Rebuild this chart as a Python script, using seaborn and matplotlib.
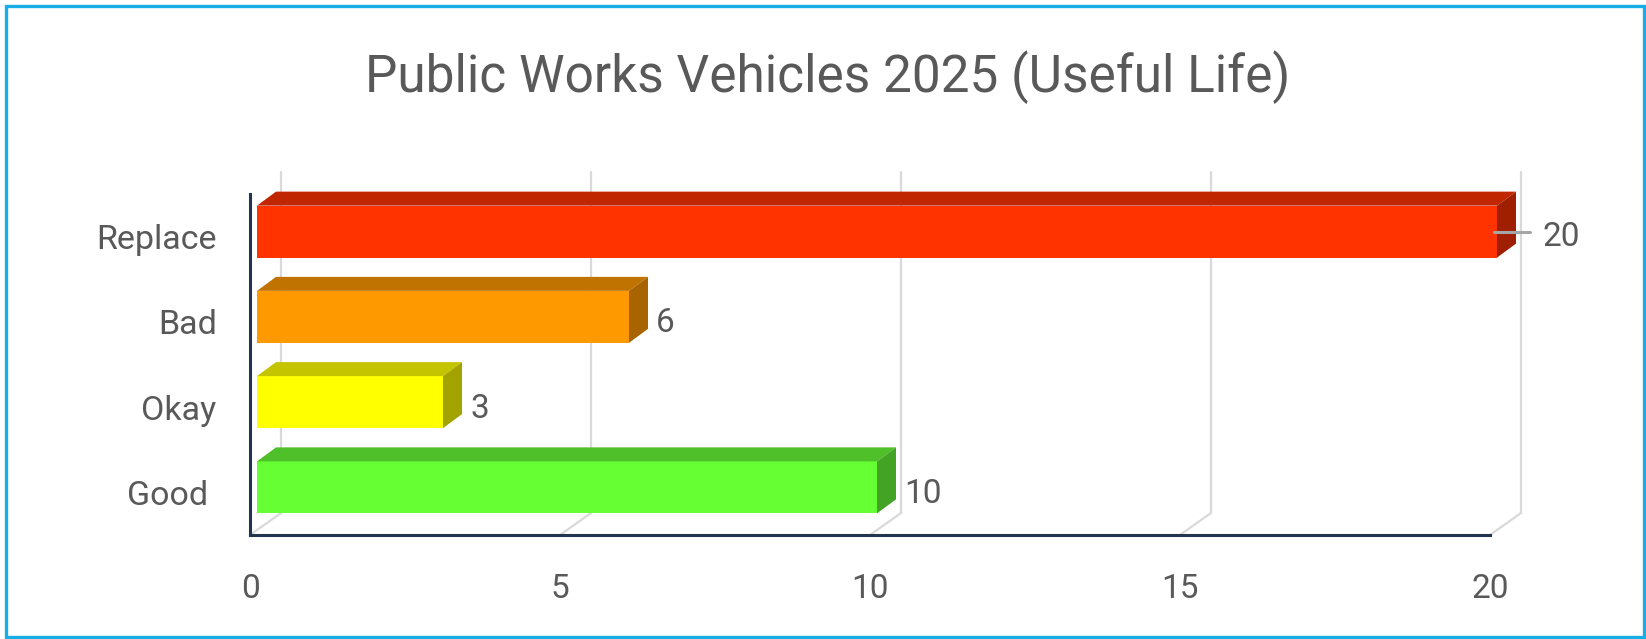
import matplotlib
matplotlib.use('Agg')
import matplotlib.pyplot as plt
import seaborn as sns
import pandas as pd
from matplotlib.patches import Polygon, Rectangle

# ---- data ----
categories = ['Replace', 'Bad', 'Okay', 'Good']
category_labels = ['Replace', 'Bad', 'Okay', 'Good ']
values = [20, 6, 3, 10]
x_ticks = [0, 5, 10, 15, 20]
x_tick_labels = ['0', '5', '10', '15', '20']
title = 'Public Works Vehicles 2025 (Useful Life)'

front_colors = ['#FF3300', '#FF9900', '#FFFF00', '#66FF33']
top_colors = ['#C02600', '#C07300', '#C4C400', '#4FBF2A']
side_colors = ['#A01F00', '#A86400', '#A3A300', '#43A324']

sns.set_theme(style='white')
plt.rcParams['font.family'] = ['Roboto', 'DejaVu Sans']

W, H = 1646, 639
fig = plt.figure(figsize=(W / 100, H / 100), dpi=100)
ax = fig.add_axes([250 / W, 104 / H, 1240 / W, 341 / H])

df = pd.DataFrame({'category': categories, 'value': values})
sns.barplot(data=df, x='value', y='category', hue='category', palette=front_colors,
            orient='h', width=0.61, legend=False, ax=ax, saturation=1, zorder=3)

ax.set_xlim(0, 20)
ax.set_ylim(3.5, -0.5)

# pixel -> data conversions (62 px per x unit, 85.25 px per category)
PX = 20 / 1240
PY = 4 / 341
FX, FY = 7 * PX, 5 * PY      # bar front-face depth shift
DX, DY = 19 * PX, 14 * PY    # bar depth
WX, WY = 31 * PX, 22 * PY    # back wall depth

grid_col = '#D9D9D9'
for v in x_ticks:
    ax.plot([v + WX, v + WX], [3.5 - WY, -0.5 - WY], color=grid_col, lw=1.6,
            clip_on=False, zorder=0.5)
    ax.plot([v, v + WX], [3.5, 3.5 - WY], color=grid_col, lw=1.6,
            clip_on=False, zorder=0.5)

label_kw = dict(fontsize=24, color='#595959')
for bar in list(ax.patches):
    w = bar.get_width()
    h = bar.get_height()
    idx = int(round(bar.get_y() + h / 2))
    bar.set_x(bar.get_x() + FX)
    bar.set_y(bar.get_y() - FY)
    bar.set_clip_on(False)
    bar.set_edgecolor('none')
    bar.set_facecolor(front_colors[idx])
    x0 = bar.get_x()
    x1 = x0 + w
    yt = bar.get_y()
    yb = yt + h
    top = Polygon([(x0, yt), (x1, yt), (x1 + DX, yt - DY), (x0 + DX, yt - DY)],
                  closed=True, facecolor=top_colors[idx], edgecolor='none',
                  clip_on=False, zorder=3)
    side = Polygon([(x1, yt), (x1, yb), (x1 + DX, yb - DY), (x1 + DX, yt - DY)],
                   closed=True, facecolor=side_colors[idx], edgecolor='none',
                   clip_on=False, zorder=3)
    ax.add_patch(top)
    ax.add_patch(side)
    yc = (yt + yb) / 2
    if w >= ax.get_xlim()[1]:
        ax.plot([x1 - 3 * PX, x1 + 33 * PX], [yc, yc], color='#A6A6A6', lw=2.2,
                clip_on=False, zorder=4)
        ax.text(x1 + 46 * PX, yc + 2 * PY, str(int(w)), ha='left', va='center_baseline',
                clip_on=False, **label_kw)
    else:
        ax.text(x1 + DX + 8 * PX, yc + 3 * PY, str(int(w)), ha='left',
                va='center_baseline', clip_on=False, **label_kw)

ax.set_xticks(x_ticks)
ax.set_xticklabels(x_tick_labels)
ax.set_yticks(range(len(categories)))
ax.set_yticklabels(category_labels)
ax.set_xlabel('')
ax.set_ylabel('')
ax.tick_params(axis='x', length=0, pad=27, labelsize=24, labelcolor='#595959')
ax.tick_params(axis='y', length=0, pad=24, labelsize=24.5, labelcolor='#595959')

for s in ['top', 'right']:
    ax.spines[s].set_visible(False)
for s in ['left', 'bottom']:
    ax.spines[s].set_color('#1F3550')
    ax.spines[s].set_linewidth(2.2)
    ax.spines[s].set_zorder(5)
ax.set_facecolor('none')

fig.text(828 / W, 1 - 92 / H, title, ha='center', va='baseline', fontsize=37,
         color='#595959')

fig.add_artist(Rectangle((6 / W, 2 / H), (1644 - 6) / W, (633 - 2) / H,
                         transform=fig.transFigure, fill=False,
                         edgecolor='#17AEE8', linewidth=2.4))

fig.savefig('out.png', dpi=100)
